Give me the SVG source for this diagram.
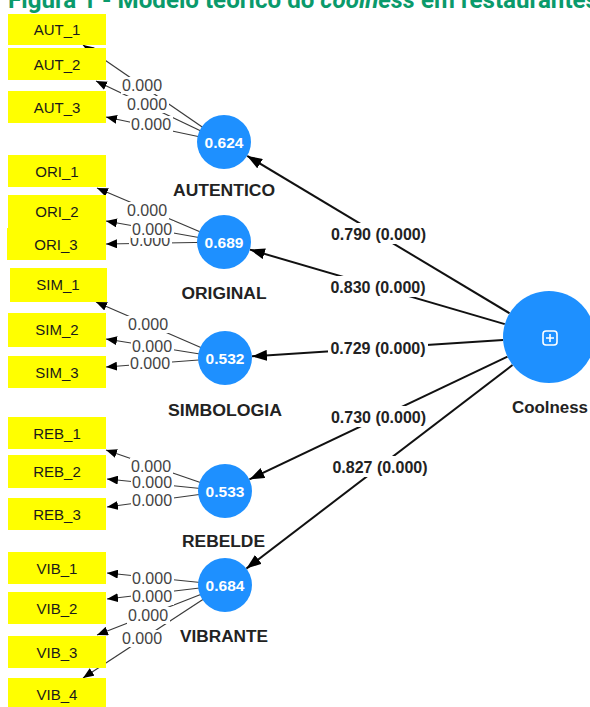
<svg xmlns="http://www.w3.org/2000/svg" width="590" height="707" viewBox="0 0 590 707">
<defs>
<style>
.title{font-family:Roboto,"Liberation Sans",sans-serif;font-weight:bold;font-size:24px;fill:#0a9a6b}
.box{fill:#ffff00}
.ind{font-family:"Liberation Sans",Arial,sans-serif;font-size:15px;fill:#1a1a1a;text-anchor:middle}
.lat{fill:#1e90ff}
.val{font-family:"Liberation Sans",Arial,sans-serif;font-size:15.5px;font-weight:bold;fill:#fff;text-anchor:middle}
.name{font-family:"Liberation Sans",Arial,sans-serif;font-size:16px;font-weight:bold;fill:#222;text-anchor:middle}
.sl{stroke:#111;stroke-width:2;fill:none;marker-end:url(#ah)}
.il{stroke:#3a3a3a;stroke-width:1.2;fill:none;marker-end:url(#ai)}
.bg{fill:#fff}
.sv{font-family:"Liberation Sans",Arial,sans-serif;font-size:16px;font-weight:bold;fill:#222;text-anchor:middle}
.iv{font-family:"Liberation Sans",Arial,sans-serif;font-size:16px;fill:#444}
</style>
<marker id="ah" markerUnits="userSpaceOnUse" markerWidth="15" markerHeight="11" refX="15" refY="5.5" orient="auto"><path d="M0,0 L15,5.5 L0,11 z" fill="#000"/></marker>
<marker id="ai" markerUnits="userSpaceOnUse" markerWidth="11" markerHeight="9" refX="11" refY="4.5" orient="auto"><path d="M0,0 L11,4.5 L0,9 z" fill="#000"/></marker>
</defs>
<rect width="590" height="707" fill="#fff"/>
<text class="title" x="8" y="8" textLength="590" lengthAdjust="spacingAndGlyphs">Figura 1 - Modelo teórico do <tspan font-style="italic">coolness</tspan> em restaurantes</text>

<g id="connectors">
<line class="il" x1="224" y1="142" x2="83" y2="45"/>
<line class="il" x1="224" y1="142" x2="96" y2="81"/>
<line class="il" x1="224" y1="142" x2="106" y2="117"/>
<line class="il" x1="224" y1="242" x2="97" y2="188"/>
<line class="il" x1="224" y1="242" x2="106" y2="221"/>
<line class="il" x1="224" y1="242" x2="106" y2="244"/>
<line class="il" x1="225" y1="358" x2="96" y2="302"/>
<line class="il" x1="225" y1="358" x2="106" y2="339"/>
<line class="il" x1="225" y1="358" x2="106" y2="367"/>
<line class="il" x1="225" y1="491" x2="106" y2="450"/>
<line class="il" x1="225" y1="491" x2="107" y2="479"/>
<line class="il" x1="225" y1="491" x2="107" y2="507"/>
<line class="il" x1="225" y1="585" x2="107" y2="573"/>
<line class="il" x1="225" y1="585" x2="107" y2="599"/>
<line class="il" x1="225" y1="585" x2="97" y2="635"/>
<line class="il" x1="225" y1="585" x2="83" y2="678"/>
<line class="sl" x1="509.6" y1="313.3" x2="247.2" y2="155.9"/>
<line class="sl" x1="504.8" y1="324.1" x2="249.9" y2="249.6"/>
<line class="sl" x1="503.1" y1="340" x2="252" y2="356.3"/>
<line class="sl" x1="507.5" y1="356.7" x2="249.4" y2="479.4"/>
<line class="sl" x1="512.5" y1="365" x2="246.4" y2="568.6"/>
<g id="path-labels">
<rect class="bg" x="329" y="223" width="99" height="21"/><text class="sv" x="378.5" y="240">0.790 (0.000)</text>
<rect class="bg" x="328" y="276" width="100" height="21"/><text class="sv" x="378" y="293">0.830 (0.000)</text>
<rect class="bg" x="328" y="337" width="100" height="21"/><text class="sv" x="378" y="354">0.729 (0.000)</text>
<rect class="bg" x="329" y="406" width="99" height="21"/><text class="sv" x="378.5" y="423">0.730 (0.000)</text>
<rect class="bg" x="331" y="456" width="99" height="21"/><text class="sv" x="380" y="473">0.827 (0.000)</text>
</g>
<g id="loading-labels">
<rect class="bg" x="130" y="116" width="43" height="17"/><text class="iv" x="131" y="130">0.000</text>
<rect class="bg" x="126" y="96" width="43" height="17"/><text class="iv" x="127" y="110">0.000</text>
<rect class="bg" x="121" y="77" width="43" height="17"/><text class="iv" x="122" y="91">0.000</text>
<rect class="bg" x="129" y="232" width="43" height="17"/><text class="iv" x="130" y="246">0.000</text>
<rect class="bg" x="131" y="221" width="43" height="17"/><text class="iv" x="132" y="235">0.000</text>
<rect class="bg" x="126" y="202" width="43" height="17"/><text class="iv" x="127" y="216">0.000</text>
<rect class="bg" x="129" y="355" width="43" height="17"/><text class="iv" x="130" y="369">0.000</text>
<rect class="bg" x="131" y="338" width="43" height="17"/><text class="iv" x="132" y="352">0.000</text>
<rect class="bg" x="127" y="316" width="43" height="17"/><text class="iv" x="128" y="330">0.000</text>
<rect class="bg" x="131" y="492" width="43" height="17"/><text class="iv" x="132" y="506">0.000</text>
<rect class="bg" x="131" y="474" width="43" height="17"/><text class="iv" x="132" y="488">0.000</text>
<rect class="bg" x="130" y="458" width="43" height="17"/><text class="iv" x="131" y="472">0.000</text>
<rect class="bg" x="121" y="630" width="43" height="17"/><text class="iv" x="122" y="644">0.000</text>
<rect class="bg" x="127" y="607" width="43" height="17"/><text class="iv" x="128" y="621">0.000</text>
<rect class="bg" x="131" y="588" width="43" height="17"/><text class="iv" x="132" y="602">0.000</text>
<rect class="bg" x="131" y="570" width="43" height="17"/><text class="iv" x="132" y="584">0.000</text>
</g>
</g>

<g id="AUT_1"><rect class="box" x="8" y="14" width="98" height="31"/><text class="ind" x="57" y="35">AUT_1</text></g>
<g id="AUT_2"><rect class="box" x="8" y="48" width="98" height="32"/><text class="ind" x="57" y="70">AUT_2</text></g>
<g id="AUT_3"><rect class="box" x="8" y="91" width="98" height="32"/><text class="ind" x="57" y="113">AUT_3</text></g>
<g id="ORI_1"><rect class="box" x="8" y="155" width="98" height="32"/><text class="ind" x="57" y="177">ORI_1</text></g>
<g id="ORI_2"><rect class="box" x="8" y="195" width="98" height="33"/><text class="ind" x="57" y="217">ORI_2</text></g>
<g id="ORI_3"><rect class="box" x="7" y="228" width="99" height="32"/><text class="ind" x="56" y="250">ORI_3</text></g>
<g id="SIM_1"><rect class="box" x="10" y="268" width="97" height="34"/><text class="ind" x="58" y="290">SIM_1</text></g>
<g id="SIM_2"><rect class="box" x="8" y="313" width="98" height="34"/><text class="ind" x="57" y="335">SIM_2</text></g>
<g id="SIM_3"><rect class="box" x="8" y="356" width="98" height="32"/><text class="ind" x="57" y="378">SIM_3</text></g>
<g id="REB_1"><rect class="box" x="8" y="417" width="98" height="32"/><text class="ind" x="57" y="439">REB_1</text></g>
<g id="REB_2"><rect class="box" x="8" y="455" width="98" height="33"/><text class="ind" x="57" y="477">REB_2</text></g>
<g id="REB_3"><rect class="box" x="8" y="498" width="98" height="32"/><text class="ind" x="57" y="520">REB_3</text></g>
<g id="VIB_1"><rect class="box" x="8" y="552" width="98" height="32"/><text class="ind" x="57" y="574">VIB_1</text></g>
<g id="VIB_2"><rect class="box" x="8" y="592" width="98" height="32"/><text class="ind" x="57" y="614">VIB_2</text></g>
<g id="VIB_3"><rect class="box" x="8" y="636" width="98" height="32"/><text class="ind" x="57" y="658">VIB_3</text></g>
<g id="VIB_4"><rect class="box" x="8" y="678" width="98" height="32"/><text class="ind" x="57" y="700">VIB_4</text></g>

<g id="AUTENTICO"><circle class="lat" cx="224" cy="142" r="27"/><text class="val" x="224" y="148">0.624</text><text class="name" x="224" y="196" textLength="102" lengthAdjust="spacingAndGlyphs">AUTENTICO</text></g>
<g id="ORIGINAL"><circle class="lat" cx="224" cy="242" r="27"/><text class="val" x="224" y="248">0.689</text><text class="name" x="224" y="299" textLength="85" lengthAdjust="spacingAndGlyphs">ORIGINAL</text></g>
<g id="SIMBOLOGIA"><circle class="lat" cx="225" cy="358" r="27"/><text class="val" x="225" y="364">0.532</text><text class="name" x="225" y="416" textLength="114" lengthAdjust="spacingAndGlyphs">SIMBOLOGIA</text></g>
<g id="REBELDE"><circle class="lat" cx="225" cy="491" r="27"/><text class="val" x="225" y="497">0.533</text><text class="name" x="223.5" y="547" textLength="83" lengthAdjust="spacingAndGlyphs">REBELDE</text></g>
<g id="VIBRANTE"><circle class="lat" cx="225" cy="585" r="27"/><text class="val" x="225" y="591">0.684</text><text class="name" x="224" y="642" textLength="88" lengthAdjust="spacingAndGlyphs">VIBRANTE</text></g>
<g id="Coolness"><circle class="lat" cx="549" cy="337" r="46"/><rect x="543" y="331" width="14" height="14" rx="3" fill="none" stroke="#fff" stroke-width="1.6"/><path d="M550,334 V342 M546,338 H554" stroke="#fff" stroke-width="1.6"/><text class="name" x="550" y="413" textLength="76" lengthAdjust="spacingAndGlyphs">Coolness</text></g>
</svg>
